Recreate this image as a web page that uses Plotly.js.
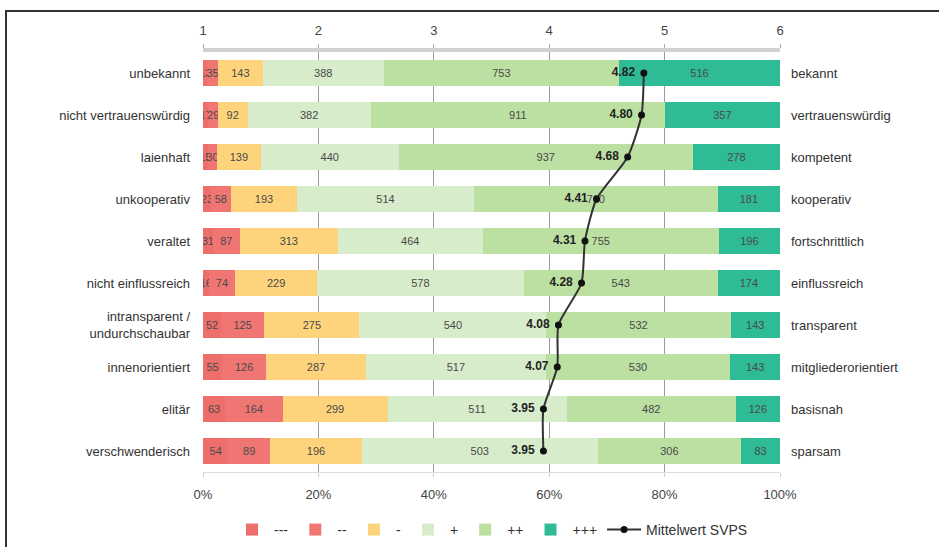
<!DOCTYPE html>
<html><head><meta charset="utf-8">
<script src="https://cdn.plot.ly/plotly-3.0.1.min.js"></script>
<style>
html,body{margin:0;padding:0;background:#fff;}
#wrap{position:relative;width:939px;height:547px;overflow:hidden;}
#chart{width:939px;height:547px;}
#frame{position:absolute;left:5px;top:10px;width:1000px;height:600px;border-top:2px solid #333;border-left:2px solid #333;pointer-events:none;}
</style></head>
<body><div id="wrap"><div id="chart"></div><div id="frame"></div></div>
<script>
const leftLabels = ["unbekannt","nicht vertrauenswürdig","laienhaft","unkooperativ","veraltet","nicht einflussreich","intransparent /<br>undurchschaubar","innenorientiert","elitär","verschwenderisch"];
const rightLabels = ["bekannt","vertrauenswürdig","kompetent","kooperativ","fortschrittlich","einflussreich","transparent","mitgliederorientiert","basisnah","sparsam"];
const seriesNames = ["---","--","-","+","++","+++"];
const vMinus3 = [13,17,15,23,31,16,52,55,63,54];
const vMinus2 = [35,29,30,58,87,74,125,126,164,89];
const vMinus1 = [143,92,139,193,313,229,275,287,299,196];
const vPlus1  = [388,382,440,514,464,578,540,517,511,503];
const vPlus2  = [753,911,937,710,755,543,532,530,482,306];
const vPlus3  = [516,357,278,181,196,174,143,143,126,83];
const means = [4.82,4.80,4.68,4.41,4.31,4.28,4.08,4.07,3.95,3.95];
const colors = ["#ee6e6c","#f07673","#fdd47c","#d7ecca","#bcdfa2","#2fbb95"];

const all = [vMinus3,vMinus2,vMinus1,vPlus1,vPlus2,vPlus3];
const totals = leftLabels.map((_,i)=>all.reduce((s,a)=>s+a[i],0));
const traces = all.map((vals,k)=>({
  type:'bar', orientation:'h', name:seriesNames[k],
  y:leftLabels, x:vals.map((v,i)=>v/totals[i]),
  text:vals.map(String), texttemplate:'%{text}',
  textposition:'inside', insidetextanchor:'middle', textangle:0,
  textfont:{size:11,color:'#4a4a4a',family:'Liberation Sans, Arial'},
  marker:{color:colors[k],line:{width:0}},
  hoverinfo:'skip', xaxis:'x', yaxis:'y'
}));
traces.push({
  type:'scatter', mode:'lines+markers+text', name:'Mittelwert SVPS',
  x:means, y:leftLabels, xaxis:'x2', yaxis:'y',
  text:means.map(m=>'<b>'+m.toFixed(2)+'</b> '), textposition:'middle left',
  textfont:{size:12,color:'#222',family:'Liberation Sans, Arial'},
  line:{color:'#333',width:2,shape:'spline',smoothing:0.6},
  marker:{color:'#111',size:7}
});
traces.push({type:'scatter',mode:'markers',x:[null],y:[null],xaxis:'x',yaxis:'y2',showlegend:false,hoverinfo:'skip'});

const layout = {
  width:939, height:547,
  margin:{l:203,r:159,t:52,b:75,autoexpand:false},
  paper_bgcolor:'#fff', plot_bgcolor:'#fff',
  barmode:'stack', bargap:0.38,
  font:{family:'Liberation Sans, Arial',color:'#333',size:13},
  uniformtext:{minsize:11,mode:'show'},
  showlegend:true,
  legend:{orientation:'h',x:0.5,xanchor:'center',y:-0.138,yanchor:'middle',
    font:{size:14,color:'#333'},traceorder:'normal',itemwidth:34},
  xaxis:{range:[0,1],tickformat:'.0%',tickvals:[0,0.2,0.4,0.6,0.8,1],
    showgrid:false,zeroline:false,showline:true,linecolor:'#ddd',linewidth:1,
    ticks:'outside',ticklen:4,tickcolor:'#ccc',ticklabelstandoff:6,tickfont:{size:13,color:'#444'}},
  xaxis2:{overlaying:'x',side:'top',range:[1,6],tickvals:[1,2,3,4,5,6],
    showgrid:true,gridcolor:'#9a9a9a',gridwidth:1,zeroline:false,
    showline:true,linecolor:'#d2d2d2',linewidth:4,ticks:'outside',ticklen:4,tickcolor:'#aaa',
    ticklabelstandoff:4,tickfont:{size:13,color:'#444'},layer:'above traces'},
  yaxis:{type:'category',categoryorder:'array',categoryarray:leftLabels,range:[9.5,-0.5],
    showgrid:false,zeroline:false,ticks:'',ticklabelstandoff:12,tickfont:{size:13,color:'#333'}},
  yaxis2:{overlaying:'y',side:'right',range:[9.5,-0.5],tickmode:'array',
    tickvals:rightLabels.map((_,i)=>i),ticktext:rightLabels,showgrid:false,zeroline:false,
    ticklabelstandoff:10,tickfont:{size:13,color:'#333'}}
};
Plotly.newPlot('chart',traces,layout,{displayModeBar:false,staticPlot:true});
</script></body></html>
